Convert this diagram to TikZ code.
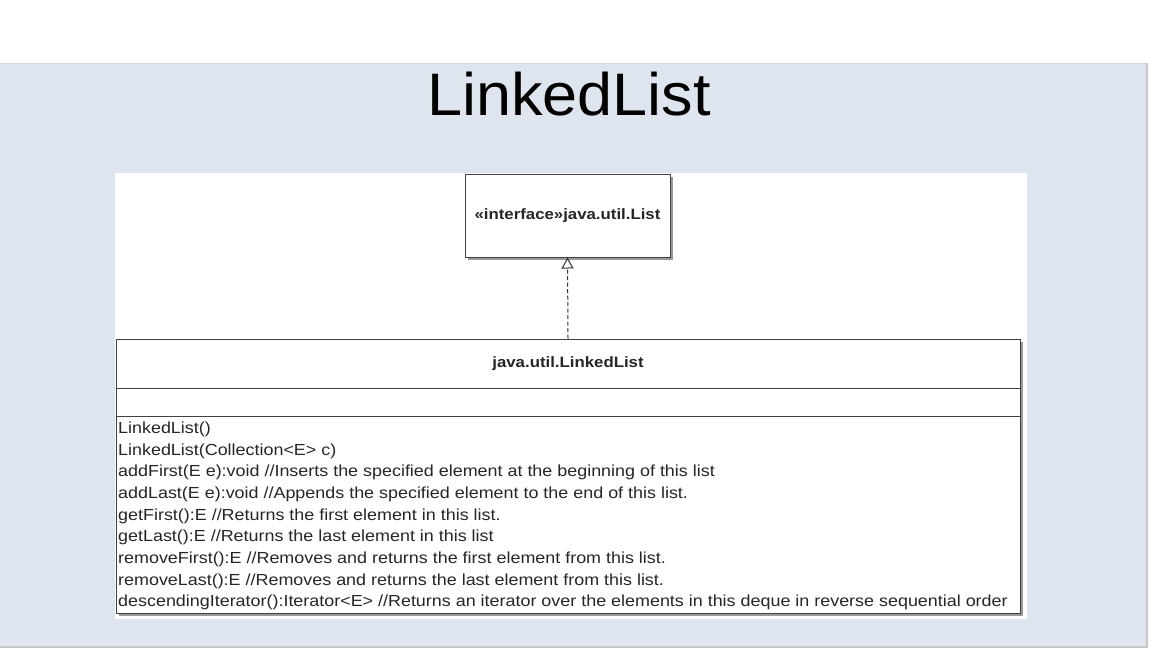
\documentclass[tikz,border=0pt]{standalone}
\usepackage{fontspec}
\setmainfont{Liberation Sans}
\newfontfamily\umlfont[FakeStretch=1.12]{Liberation Sans}
\newfontfamily\titlefont[FakeStretch=1.05]{Liberation Sans}
\usetikzlibrary{arrows.meta,shadows}
\definecolor{panelblue}{HTML}{DFE5EF}
\definecolor{textgray}{HTML}{262626}
\begin{document}
\begin{tikzpicture}[x=1pt,y=-1pt]
\tikzstyle{umlbox} = [draw=black!75, line width=1pt, fill=white, shape=rectangle, inner sep=0pt, drop shadow={shadow xshift=3pt, shadow yshift=-3pt, fill=black!50, opacity=.8}]
\tikzstyle{opline} = [anchor=base west, inner sep=0pt, text=textgray, font=\umlfont\fontsize{16}{18}\selectfont]
\useasboundingbox (0,0) rectangle (1152,648);
\fill [white] (0,0) rectangle (1152,648);
% slide panel
\fill [panelblue] (0,63) rectangle (1146,646);
\draw [black!15, line width=1pt] (0,63.5) -- (1146,63.5);
\draw [black!22, line width=2pt] (1147,63) -- (1147,647) -- (0,647);
\fill [white] (115,173) rectangle (1027,619);

\node [anchor=base, inner sep=0pt, font=\titlefont\fontsize{60}{60}\selectfont] (title) at (569,115) {LinkedList};

% interface
\node [umlbox, minimum width=205pt, minimum height=83pt, font=\umlfont\bfseries\fontsize{15}{17}\selectfont, text=textgray] (iface) at (567.5,215.5) {«interface»java.util.List};

% class compartments
\node [umlbox, minimum width=904pt, minimum height=49pt, font=\umlfont\bfseries\fontsize{15}{17}\selectfont, text=textgray] (cname) at (568,363.5) {java.util.LinkedList};
\node [umlbox, minimum width=904pt, minimum height=28pt] (cattr) at (568,402) {};
\node [umlbox, minimum width=904pt, minimum height=197pt] (cops) at (568,514.5) {};

\node [opline] (m1) at (118,433.3) {LinkedList()};
\node [opline] (m2) at (118,455) {LinkedList(Collection<E> c)};
\node [opline] (m3) at (118,476.7) {addFirst(E e):void //Inserts the specified element at the beginning of this list};
\node [opline] (m4) at (118,498.3) {addLast(E e):void //Appends the specified element to the end of this list.};
\node [opline] (m5) at (118,520) {getFirst():E //Returns the first element in this list.};
\node [opline] (m6) at (118,541.7) {getLast():E //Returns the last element in this list};
\node [opline] (m7) at (118,563.3) {removeFirst():E //Removes and returns the first element from this list.};
\node [opline] (m8) at (118,585) {removeLast():E //Removes and returns the last element from this list.};
\node [opline] (m9) at (118,606.7) {descendingIterator():Iterator<E> //Returns an iterator over the elements in this deque in reverse sequential order};

% realization
\draw [black!80, line width=1pt, dash pattern=on 4pt off 2.5pt, -{Triangle[open, length=11pt, width=12pt, line width=1pt]}] (cname.north) -- (iface.south);
\end{tikzpicture}
\end{document}
